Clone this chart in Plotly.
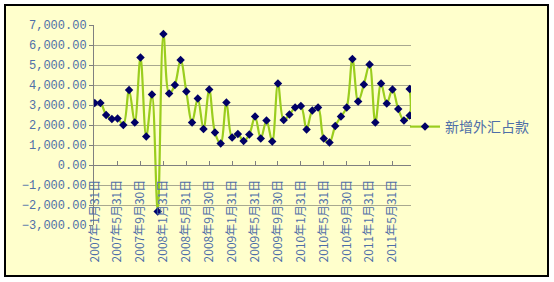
import plotly.graph_objects as go

# Categories (month-end dates); the last two observations share the same month
dates = [
    "2007年1月31日", "2007年2月28日", "2007年3月31日", "2007年4月30日", "2007年5月31日", "2007年6月30日",
    "2007年7月31日", "2007年8月31日", "2007年9月30日", "2007年10月31日", "2007年11月30日", "2007年12月31日",
    "2008年1月31日", "2008年2月29日", "2008年3月31日", "2008年4月30日", "2008年5月31日", "2008年6月30日",
    "2008年7月31日", "2008年8月31日", "2008年9月30日", "2008年10月31日", "2008年11月30日", "2008年12月31日",
    "2009年1月31日", "2009年2月28日", "2009年3月31日", "2009年4月30日", "2009年5月31日", "2009年6月30日",
    "2009年7月31日", "2009年8月31日", "2009年9月30日", "2009年10月31日", "2009年11月30日", "2009年12月31日",
    "2010年1月31日", "2010年2月28日", "2010年3月31日", "2010年4月30日", "2010年5月31日", "2010年6月30日",
    "2010年7月31日", "2010年8月31日", "2010年9月30日", "2010年10月31日", "2010年11月30日", "2010年12月31日",
    "2011年1月31日", "2011年2月28日", "2011年3月31日", "2011年4月30日", "2011年5月31日", "2011年6月30日",
    "2011年7月31日", "2011年8月31日", "2011年8月31日",
]

# 新增外汇占款 (亿元)
fx_increase = [
    3100, 3100, 2500, 2300, 2330, 2000, 3750, 2120, 5380, 1420, 3520, -2330,
    6550, 3570, 4000, 5250, 3670, 2130, 3320, 1800, 3770, 1620, 1080, 3120,
    1380, 1550, 1200, 1520, 2420, 1330, 2220, 1170, 4080, 2250, 2520, 2880,
    2950, 1780, 2720, 2870, 1330, 1130, 1950, 2420, 2880, 5300, 3170, 4030,
    5030, 2120, 4080, 3080, 3780, 2800, 2220, 2480, 3800,
]

tick_labels = [
    "2007年1月31日", "2007年5月31日", "2007年9月30日", "2008年1月31日", "2008年5月31日",
    "2008年9月30日", "2009年1月31日", "2009年5月31日", "2009年9月30日", "2010年1月31日",
    "2010年5月31日", "2010年9月30日", "2011年1月31日", "2011年5月31日",
]

y_ticks = [-3000, -2000, -1000, 0, 1000, 2000, 3000, 4000, 5000, 6000, 7000]

W, H = 554, 282
L, R, T, B = 94, 143, 25, 57
pw, ph = W - L - R, H - T - B

def px_x(x):
    return (x - L) / pw

def px_y(y):
    return (H - B - y) / ph

label_color = "#4F6FA8"

fig = go.Figure()
fig.add_trace(go.Scatter(
    x=dates, y=fx_increase, mode="lines+markers", name="新增外汇占款",
    line=dict(color="#9ACD1E", width=2.2, shape="spline", smoothing=1),
    marker=dict(symbol="diamond", size=6.5, color="#000066"),
))

fig.update_layout(
    width=W, height=H,
    margin=dict(l=L, r=R, t=T, b=B, pad=0),
    paper_bgcolor="white",
    plot_bgcolor="rgba(0,0,0,0)",
    showlegend=True,
    legend=dict(
        x=px_x(405), y=px_y(127), xanchor="left", yanchor="middle",
        bgcolor="rgba(0,0,0,0)",
        font=dict(family="Noto Sans CJK SC", size=14, color=label_color),
    ),
    shapes=[dict(
        type="rect", xref="paper", yref="paper",
        x0=px_x(5), x1=px_x(548), y0=px_y(276), y1=px_y(5),
        fillcolor="#FFFFCC", line=dict(color="black", width=2), layer="below",
    )],
    xaxis=dict(
        type="category",
        categoryorder="array",
        categoryarray=list(dict.fromkeys(dates)),
        range=[-0.12, 55.23],
        anchor="free", position=0.3,
        showgrid=False, zeroline=False,
        showline=True, linecolor="#808080", linewidth=1,
        tickmode="array", tickvals=tick_labels, ticktext=tick_labels,
        ticks="inside", ticklen=4, tickcolor="#808080",
        ticklabelstandoff=9,
        tickangle=-90,
        tickfont=dict(family="Noto Sans CJK SC", size=12, color=label_color),
    ),
    yaxis=dict(
        range=[-3000, 7000],
        tickmode="array", tickvals=y_ticks,
        tickformat=",.2f",
        showgrid=True, gridcolor="#A8A890", gridwidth=1,
        zeroline=False,
        showline=True, linecolor="#808080", linewidth=1,
        ticks="outside", ticklen=4, tickcolor="#808080",
        tickfont=dict(family="Liberation Mono", size=12, color=label_color),
    ),
)

fig.write_html("out.html")
